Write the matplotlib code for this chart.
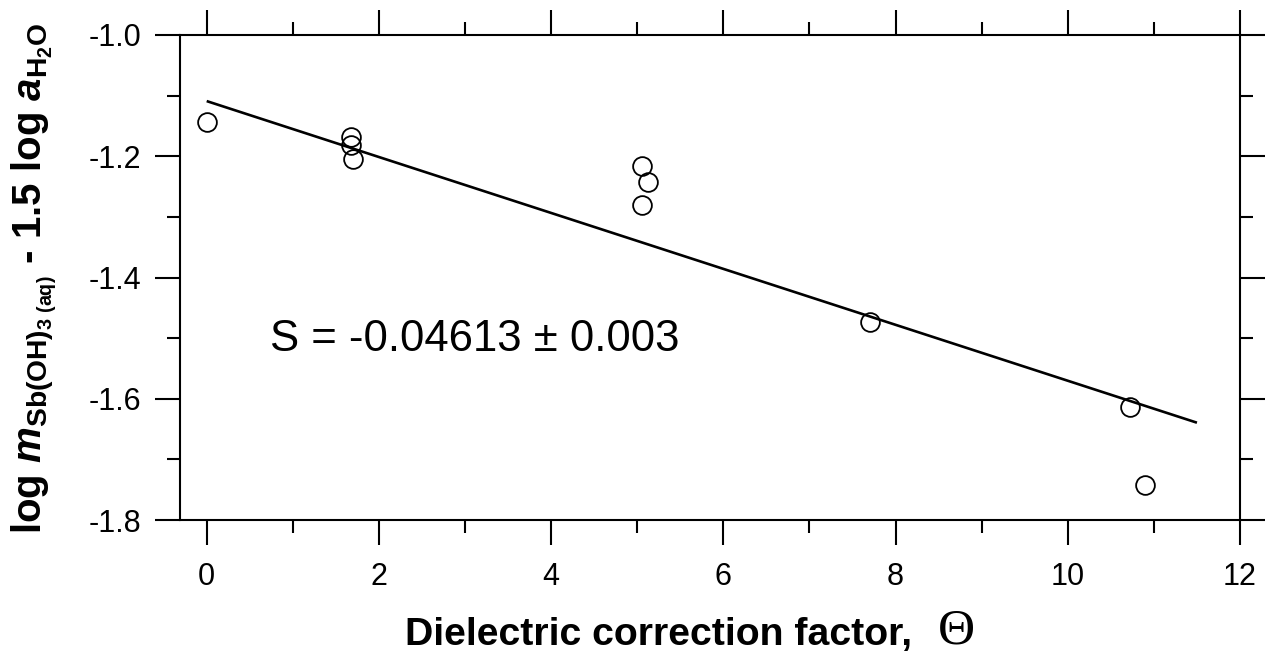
import matplotlib
matplotlib.use("Agg")
import matplotlib.pyplot as plt
from matplotlib.ticker import MultipleLocator

# Data
theta = [0.0, 1.68, 1.68, 1.70, 5.05, 5.12, 5.05, 7.70, 10.72, 10.90]
logm = [-1.143, -1.168, -1.182, -1.204, -1.216, -1.243, -1.280, -1.473, -1.613, -1.742]
fit_x = [0.0, 11.5]
fit_intercept = -1.109
fit_slope = -0.04613
fit_y = [fit_intercept + fit_slope * x for x in fit_x]
x_ticks = [0, 2, 4, 6, 8, 10, 12]
y_ticks = [-1.8, -1.6, -1.4, -1.2, -1.0]
annotation = "S = -0.04613 \u00b1 0.003"

plt.rcParams['font.family'] = ['Liberation Sans', 'DejaVu Sans']
plt.rcParams['mathtext.fontset'] = 'custom'
plt.rcParams['mathtext.rm'] = 'Liberation Sans:bold'
plt.rcParams['mathtext.bf'] = 'Liberation Sans:bold'
plt.rcParams['mathtext.it'] = 'Liberation Sans:italic:bold'

fig = plt.figure(figsize=(12.66, 6.54), dpi=100)
ax = fig.add_axes([180/1266, 1-520/654, (1240-180)/1266, (520-35)/654])

ax.plot(fit_x, fit_y, color='black', lw=1.9, solid_capstyle='butt')
ax.plot(theta, logm, linestyle='none', marker='o', markersize=13.5,
        markerfacecolor='none', markeredgecolor='black', markeredgewidth=1.3)

ax.set_xlim(-0.31, 12)
ax.set_ylim(-1.8, -1.0)
ax.set_xticks(x_ticks)
ax.set_yticks(y_ticks)
ax.set_yticklabels([f"{v:.1f}" for v in y_ticks])
ax.xaxis.set_minor_locator(MultipleLocator(1))
ax.yaxis.set_minor_locator(MultipleLocator(0.1))

ax.tick_params(which='both', direction='out', top=True, right=True,
               width=1.5, labelsize=22, color='black')
ax.tick_params(which='major', length=18)
ax.tick_params(which='minor', length=9.5)
ax.tick_params(axis='x', which='major', pad=12)
ax.tick_params(axis='y', which='major', pad=10)

for s in ax.spines.values():
    s.set_linewidth(1.5)

ax.text(0.73, -1.503, annotation, fontsize=31.5, va='center', ha='left')

# x label
fig.text(405/1266, 1-645/654, "Dielectric correction factor,", fontsize=28.3,
         fontweight='bold', ha='left', va='baseline')
fig.text(956/1266, 1-631/654, "\u0398", fontsize=37, ha='center', va='center',
         family=['Liberation Serif', 'DejaVu Serif'])

# y label
fig.text(34/1266, 1-278/654,
         r"log $m_{\mathrm{Sb(OH)_{3\ (aq)}}}$ - 1.5 log $a_{\mathrm{H_2O}}$",
         rotation=90, fontsize=29, fontweight='bold', ha='center', va='center')

fig.savefig("out.png", dpi=100)
